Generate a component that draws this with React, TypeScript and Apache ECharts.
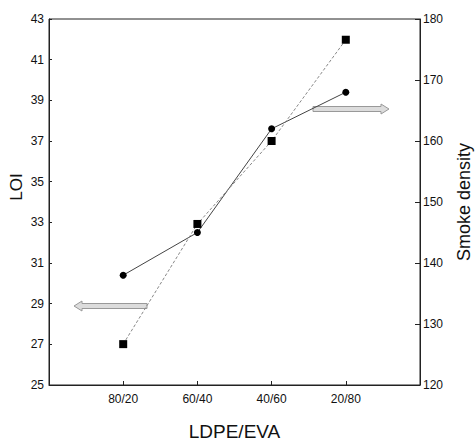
import React, { useEffect, useRef } from "react";
import * as echarts from "echarts";

const categories = ["", "80/20", "60/40", "40/60", "20/80", ""];
const loiValues: (number | null)[] = [null, 30.4, 32.5, 37.6, 39.4, null];
const smokeValues: (number | null)[] = [null, 126.7, 146.4, 160.0, 176.6, null];
const loiTicks = [25, 27, 29, 31, 33, 35, 37, 39, 41, 43];
const smokeTicks = [120, 130, 140, 150, 160, 170, 180];

const labelFont = "'Liberation Sans Narrow', 'Liberation Sans', Arial, sans-serif";
const nameFont = "'Liberation Sans', Arial, sans-serif";

export default function App() {
  const ref = useRef<HTMLDivElement>(null);
  useEffect(() => {
    if (!ref.current) return;
    const chart = echarts.init(ref.current, undefined, { renderer: "svg" });
    chart.setOption({
      animation: false,
      backgroundColor: "#ffffff",
      grid: {
        left: 49,
        right: 55,
        top: 19,
        bottom: 60,
        containLabel: false,
        outerBoundsMode: "none",
        show: true,
        borderColor: "#222",
        borderWidth: 1,
        backgroundColor: "transparent",
      },
      xAxis: {
        type: "category",
        data: categories,
        boundaryGap: false,
        name: "LDPE/EVA",
        nameLocation: "middle",
        nameGap: 37,
        nameTextStyle: { fontFamily: nameFont, fontSize: 19, color: "#111" },
        axisLine: { lineStyle: { color: "#222", width: 1 } },
        axisTick: {
          inside: true,
          length: 4,
          lineStyle: { color: "#222" },
          interval: (i: number) => i > 0 && i < categories.length - 1,
        },
        axisLabel: {
          fontFamily: labelFont,
          fontSize: 12,
          color: "#111",
          margin: 8,
          interval: 0,
        },
        splitLine: { show: false },
      },
      yAxis: [
        {
          type: "value",
          min: 25,
          max: 43,
          position: "left",
          name: "LOI",
          nameLocation: "middle",
          nameGap: 24,
          nameMoveOverlap: false,
          nameRotate: 90,
          nameTextStyle: {
            fontFamily: nameFont,
            fontSize: 17,
            color: "#111",
            padding: [0, 0, 0, 30],
          },
          axisLine: { show: true, lineStyle: { color: "#222", width: 1 } },
          axisTick: {
            show: true,
            inside: true,
            length: 3,
            customValues: loiTicks,
            lineStyle: { color: "#222" },
          },
          axisLabel: {
            customValues: loiTicks,
            fontFamily: labelFont,
            fontSize: 12,
            color: "#111",
            margin: 5,
          },
          splitLine: { show: false },
        },
        {
          type: "value",
          min: 120,
          max: 180,
          position: "right",
          name: "Smoke density",
          nameLocation: "middle",
          nameGap: 35,
          nameRotate: 90,
          nameTextStyle: { fontFamily: nameFont, fontSize: 18, color: "#111" },
          axisLine: { show: true, lineStyle: { color: "#222", width: 1 } },
          axisTick: {
            show: true,
            inside: true,
            length: 5,
            customValues: smokeTicks,
            lineStyle: { color: "#222" },
          },
          axisLabel: {
            customValues: smokeTicks,
            fontFamily: labelFont,
            fontSize: 12,
            color: "#111",
            margin: 3,
          },
          splitLine: { show: false },
        },
      ],
      series: [
        {
          name: "LOI",
          type: "line",
          yAxisIndex: 0,
          data: loiValues,
          symbol: "circle",
          symbolSize: 7,
          itemStyle: { color: "#000" },
          lineStyle: { color: "#444", width: 1 },
          connectNulls: false,
        },
        {
          name: "Smoke density",
          type: "line",
          yAxisIndex: 1,
          data: smokeValues,
          symbol: "rect",
          symbolSize: 8,
          itemStyle: { color: "#000" },
          lineStyle: { color: "#888", width: 1, type: [3, 2] },
          connectNulls: false,
        },
      ],
      graphic: [
        {
          type: "polygon",
          shape: {
            points: [
              [74, 306],
              [82, 301],
              [82, 303.5],
              [147, 303.5],
              [147, 308.5],
              [82, 308.5],
              [82, 311],
            ],
          },
          style: { fill: "#dcdcdc", stroke: "#999", lineWidth: 1 },
        },
        {
          type: "polygon",
          shape: {
            points: [
              [313, 106.5],
              [381, 106.5],
              [381, 104],
              [389, 109],
              [381, 114],
              [381, 111.5],
              [313, 111.5],
            ],
          },
          style: { fill: "#dcdcdc", stroke: "#999", lineWidth: 1 },
        },
      ],
    });
    return () => chart.dispose();
  }, []);
  return (
    <div
      ref={ref}
      style={{ position: "fixed", left: 0, top: 0, width: 475, height: 445, background: "#fff" }}
    />
  );
}
